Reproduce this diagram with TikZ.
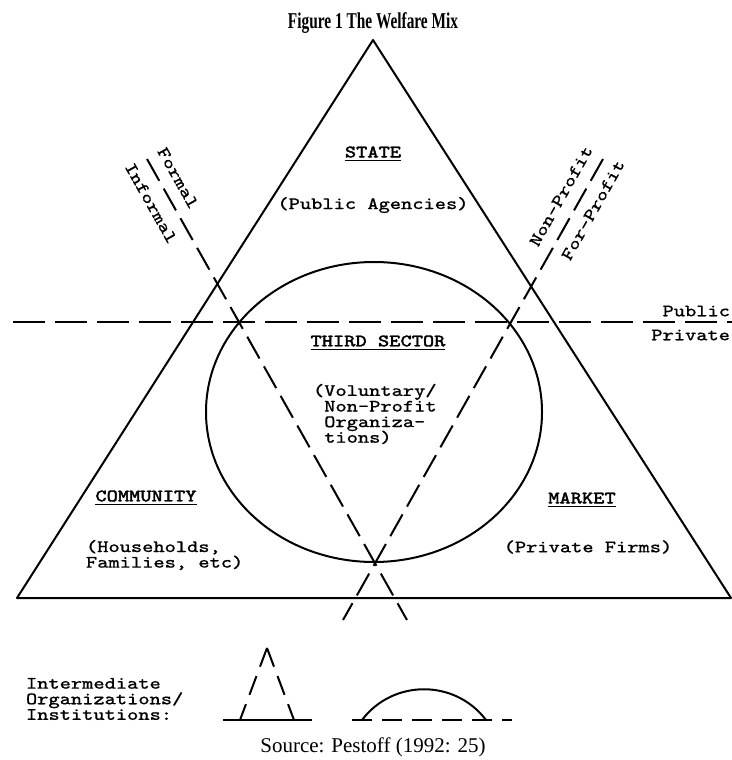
\documentclass[tikz,border=0pt]{standalone}
\usepackage{fontspec}
\usepackage{graphicx}
\usepackage{tikz}
\setmainfont{Liberation Serif}
\newfontfamily\typedfont{Latin Modern Mono}[FakeStretch=1.23, FakeBold=0.6]
\newfontfamily\typedheadfont{Latin Modern Mono}[FakeStretch=1.23, FakeBold=2]
\tikzset{
  typed/.style={font=\typedfont\fontsize{8.7}{7.8}\selectfont, inner sep=0pt},
  heading/.style={font=\typedheadfont\fontsize{8.7}{7.8}\selectfont, inner sep=0pt},
  longdash/.style={dash pattern=on 16pt off 5pt},
  crossdash/.style={dash pattern=on 12.5pt off 4.5pt},
  smalldash/.style={dash pattern=on 10pt off 5pt}
}
\setlength{\lineskiplimit}{-20pt}

\begin{document}
\begin{tikzpicture}[x=0.5pt, y=-0.5pt, line width=1pt]
  \useasboundingbox (0,0) rectangle (732,760);
  \coordinate (apex) at (373,40);
  \coordinate (leftcorner) at (17,598);
  \coordinate (rightcorner) at (731,598);
  \draw[line join=round] (leftcorner) -- (apex) -- (rightcorner) -- cycle;
  \draw (374,412) ellipse [x radius=168, y radius=150];
  \draw[longdash] (13,322) -- (732,322);
  \draw[crossdash] (147,159) -- (407,620);
  \draw[crossdash] (603,159) -- (343,620);
  \node[font=\bfseries\fontsize{11.3}{12}\selectfont] (title) at (373,23) {\scalebox{0.68}[1]{Figure 1 The Welfare Mix}};
  \node[heading] (state) at (373,154) {\underline{STATE}};
  \node[typed] (agencies) at (373,205) {(Public Agencies)};
  \node[heading] (third) at (378,343) {\underline{THIRD SECTOR}};
  \node[typed, align=left, anchor=west] (voluntary) at (312,414) {(Voluntary/\\\phantom{(}Non-Profit\\\phantom{(}Organiza-\\\phantom{(}tions)};
  \node[heading] (community) at (146,498) {\underline{COMMUNITY}};
  \node[typed, align=left, anchor=west] (households) at (85,555) {(Households,\\Families, etc)};
  \node[heading] (market) at (582,500) {\underline{MARKET}};
  \node[typed] (firms) at (588,547) {(Private Firms)};
  \node[typed, rotate=-60.6] (formal) at (178,178) {Formal};
  \node[typed, rotate=-60.6] (informal) at (151,203) {Informal};
  \node[typed, rotate=60.6] (nonprofit) at (561,196) {Non-Profit};
  \node[typed, rotate=60.6] (forprofit) at (593,210) {For-Profit};
  \node[typed, anchor=east] (public) at (731,311) {Public};
  \node[typed, anchor=east] (private) at (731,335) {Private};
  \node[typed, align=left, anchor=west] (intermediate) at (25,699) {Intermediate\\Organizations/\\Institutions:};
  \coordinate (smalltip) at (267,648);
  \draw[smalldash] (smalltip) -- (240,720);
  \draw[smalldash] (smalltip) -- (294,720);
  \draw (223,720) -- (312,720);
  \draw (362,720) .. controls (393,679) and (455,679) .. (486,720);
  \draw[smalldash] (352,720) -- (512,720);
  \node[font=\fontsize{10.5}{12}\selectfont] (source) at (373,747) {Source: Pestoff (1992: 25)};
\end{tikzpicture}
\end{document}
